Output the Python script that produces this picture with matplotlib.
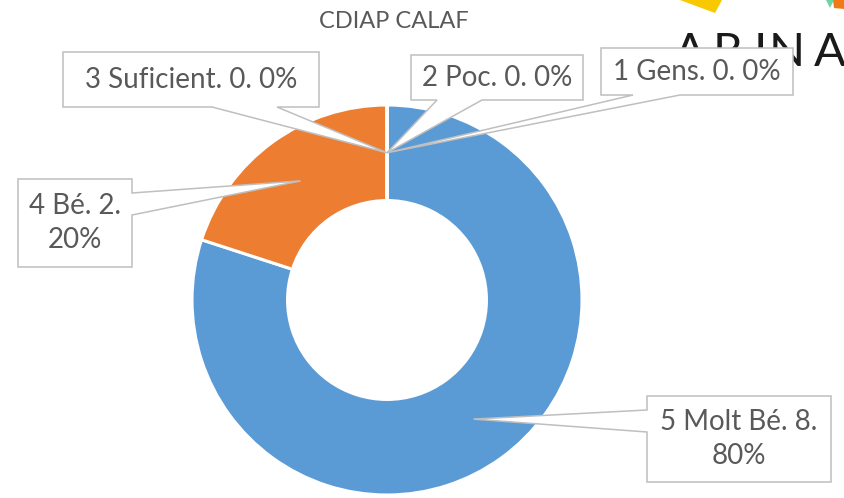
import numpy as np
import matplotlib
matplotlib.use("Agg")
from matplotlib import pyplot as plt
from matplotlib.patches import Polygon

# Chart data
TITLE = "CDIAP CALAF"
categories = ["5 Molt Bé", "4 Bé", "3 Suficient", "2 Poc", "1 Gens"]
values = [8, 2, 0, 0, 0]
colors = ["#5B9BD5", "#ED7D31", "#A5A5A5", "#FFC000", "#4472C4"]

W, H = 844, 498
TEXT = "#595959"
EDGE = "#BFBFBF"
plt.rcParams["font.family"] = ["Lato", "DejaVu Sans"]

fig = plt.figure(figsize=(W / 100, H / 100), dpi=100)
ax = fig.add_axes([0, 0, 1, 1])


def Y(y):
    # layout is measured from the top of the picture
    return H - y


# Doughnut
cx, cy = 387, Y(300)
R = 195
hole = 0.51
ax.pie(values, colors=colors, startangle=90, counterclock=False,
       center=(cx, cy), radius=R,
       wedgeprops=dict(width=R * (1 - hole), edgecolor="white", linewidth=2.2))
ax.set_xlim(0, W)
ax.set_ylim(0, H)
ax.set_aspect("auto")
ax.axis("off")

# Label anchors: middle of each ring segment
total = sum(values)
cum = np.cumsum([0] + values[:-1])
r_mid = R * (1 + hole) / 2
tips = []
for c, v in zip(cum, values):
    ang = np.radians(90 - 360 * (c + v / 2) / total)
    tips.append((cx + r_mid * np.cos(ang), cy + r_mid * np.sin(ang)))

# Callout boxes (x0, y0, x1, y1 from top-left), side of pointer and base
callouts = {
    "5 Molt Bé": ((647, 396, 831, 482), "left", (410, 432)),
    "4 Bé": ((18, 179, 132, 267), "right", (193, 215)),
    "3 Suficient": ((63, 52, 319, 107), "bottom", (212, 277)),
    "2 Poc": ((411, 55, 583, 100), "bottom", (437, 482)),
    "1 Gens": ((601, 48, 793, 95), "bottom", (633, 680)),
}
label_lines = {
    "5 Molt Bé": "5 Molt Bé. 8.\n80%",
    "4 Bé": "4 Bé. 2.\n20%",
    "3 Suficient": "3 Suficient. 0. 0%",
    "2 Poc": "2 Poc. 0. 0%",
    "1 Gens": "1 Gens. 0. 0%",
}

# Logo in the corner (drawn behind the callouts)
ax.add_patch(Polygon([(680, Y(0)), (722, Y(0)), (715, Y(13))],
                     closed=True, facecolor="#F8C800", edgecolor="none"))
ax.add_patch(Polygon([(826, Y(0)), (834, Y(0)), (830, Y(8))],
                     closed=True, facecolor="#6FD4A4", edgecolor="none"))
ax.add_patch(Polygon([(833, Y(0)), (844, Y(0)), (844, Y(9)), (834, Y(8))],
                     closed=True, facecolor="#F07A14", edgecolor="none"))
for letter, lx in zip("ARINA", [690, 727, 760, 787, 830]):
    ax.text(lx, Y(66), letter, ha="center", va="baseline", fontsize=34,
            fontweight="normal", color="#1A1A1A")

order = ["1 Gens", "3 Suficient", "2 Poc", "4 Bé", "5 Molt Bé"]
for name in order:
    (x0, y0, x1, y1), side, (b1, b2) = callouts[name]
    tip = tips[categories.index(name)]
    if side == "bottom":
        pts = [(x0, Y(y0)), (x1, Y(y0)), (x1, Y(y1)), (b2, Y(y1)), tip,
               (b1, Y(y1)), (x0, Y(y1))]
    elif side == "right":
        pts = [(x0, Y(y0)), (x1, Y(y0)), (x1, Y(b1)), tip, (x1, Y(b2)),
               (x1, Y(y1)), (x0, Y(y1))]
    else:
        pts = [(x0, Y(y0)), (x1, Y(y0)), (x1, Y(y1)), (x0, Y(y1)),
               (x0, Y(b2)), tip, (x0, Y(b1))]
    ax.add_patch(Polygon(pts, closed=True, facecolor="white", edgecolor=EDGE,
                         linewidth=1.1, zorder=5))
    ax.text((x0 + x1) / 2, Y((y0 + y1) / 2), label_lines[name], ha="center",
            va="center", fontsize=20, color=TEXT, linespacing=1.4, zorder=6)

ax.text(394, Y(21), TITLE, ha="center", va="center", fontsize=17, color=TEXT)

fig.savefig("out.png", dpi=100)
